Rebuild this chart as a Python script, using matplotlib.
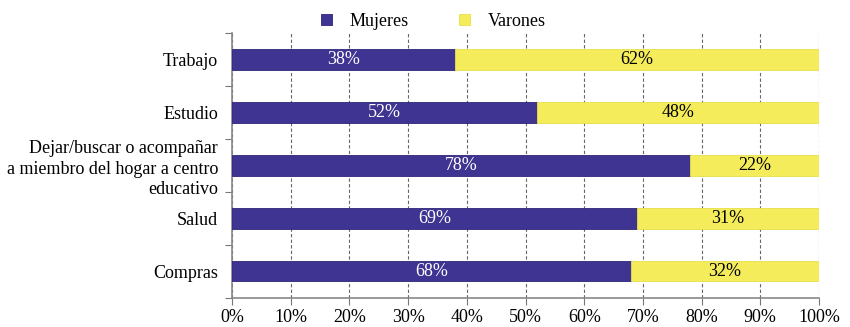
import numpy as np
import matplotlib.pyplot as plt
from matplotlib.ticker import FixedLocator, NullFormatter, FixedFormatter

# Datos
categorias = ['Trabajo', 'Estudio',
              'Dejar/buscar o acompañar\na miembro del hogar a centro\neducativo',
              'Salud', 'Compras']
mujeres = [38, 52, 78, 69, 68]
varones = [62, 48, 22, 31, 32]

color_muj = '#3f3491'
color_var = '#f4ec5b'

plt.rcParams['font.family'] = ['Liberation Serif', 'DejaVu Serif']

fig = plt.figure(figsize=(8.5, 3.27), dpi=100)
ax = fig.add_axes([0.273, 0.089, 0.6905, 0.81])

y = np.arange(len(categorias)) + 0.5
alto = 0.38
ax.barh(y, mujeres, height=alto, color=color_muj, edgecolor='#2e2678', linewidth=0.6,
        label='Mujeres', zorder=3)
ax.barh(y, varones, left=mujeres, height=alto, color=color_var, edgecolor='#e8e04a',
        linewidth=0.6, label='Varones', zorder=3)

# Etiquetas dentro de las barras
for yi, m, v in zip(y, mujeres, varones):
    ax.text(m / 2, yi, f'{m}%', ha='center', va='center', color='white', fontsize=13, zorder=4)
    ax.text(m + v / 2, yi, f'{v}%', ha='center', va='center', color='black', fontsize=13, zorder=4)

ax.set_xlim(0, 100)
ax.set_ylim(len(categorias), 0)
ax.set_xticks(np.arange(0, 101, 10))
ax.set_xticklabels([f'{t}%' for t in range(0, 101, 10)], fontsize=13)

# Ticks del eje y en los límites, etiquetas centradas
ax.yaxis.set_major_locator(FixedLocator(np.arange(len(categorias) + 1)))
ax.yaxis.set_major_formatter(NullFormatter())
ax.yaxis.set_minor_locator(FixedLocator(y))
ax.yaxis.set_minor_formatter(FixedFormatter(categorias))
ax.tick_params(axis='y', which='minor', length=0, labelsize=13, pad=10)
ax.tick_params(axis='y', which='major', length=5, color='#777777')
ax.tick_params(axis='x', length=5, color='#777777', pad=3)
for lbl in ax.get_yticklabels(minor=True):
    lbl.set_horizontalalignment('right')
    lbl.set_multialignment('right')
    lbl.set_linespacing(1.25)

ax.grid(axis='x', linestyle=(0, (3, 2)), color='#666666', linewidth=0.8, zorder=0)
for s in ['top', 'right']:
    ax.spines[s].set_visible(False)
for s in ['left', 'bottom']:
    ax.spines[s].set_color('#888888')
    ax.spines[s].set_linewidth(1.2)

fig.legend(loc='upper center', bbox_to_anchor=(0.51, 1.01), ncol=2, frameon=False,
           fontsize=13, handlelength=0.6, handleheight=0.6, columnspacing=2.8, handletextpad=1.0)

fig.savefig('out.png', dpi=100)
